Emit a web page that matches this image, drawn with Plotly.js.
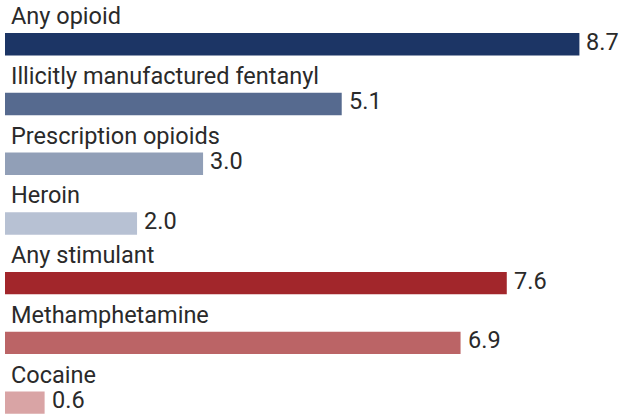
<!DOCTYPE html>
<html>
<head>
<meta charset="utf-8">
<script src="https://cdn.plot.ly/plotly-3.0.1.min.js"></script>
<style>html,body{margin:0;padding:0;background:#fff;}#chart{width:621px;height:414px;}</style>
</head>
<body>
<div id="chart"></div>
<script>
const categories = ["Any opioid","Illicitly manufactured fentanyl","Prescription opioids","Heroin","Any stimulant","Methamphetamine","Cocaine"];
const values = [8.7, 5.1, 3.0, 2.0, 7.6, 6.9, 0.6];
const colors = ["#1c3565","#566a8f","#919fb7","#b7c1d3","#a2262b","#bb6466","#d9a4a5"];

const font = {family: "Roboto, sans-serif", size: 23.5, color: "#2a2a2a"};

const trace = {
  type: "bar",
  orientation: "h",
  x: values,
  y: categories,
  marker: {color: colors, line: {width: 0}},
  hoverinfo: "none"
};

const annotations = [];
categories.forEach((c, i) => {
  annotations.push({
    x: 0, y: c, xref: "x", yref: "y",
    text: c, showarrow: false, xanchor: "left", yanchor: "middle",
    xshift: 4, yshift: 28, font: font
  });
  annotations.push({
    x: values[i], y: c, xref: "x", yref: "y",
    text: values[i].toFixed(1), showarrow: false, xanchor: "left", yanchor: "middle",
    xshift: 5, yshift: 2.5, font: font
  });
});

const layout = {
  width: 621, height: 414,
  margin: {l: 5, r: 0, t: 0, b: 0},
  paper_bgcolor: "#fff", plot_bgcolor: "#fff",
  showlegend: false,
  bargap: 0.625,
  xaxis: {range: [0, 9.33], visible: false, fixedrange: true},
  yaxis: {type: "category", range: [6.19, -0.74], visible: false, fixedrange: true},
  annotations: annotations
};

Plotly.newPlot("chart", [trace], layout, {displayModeBar: false, staticPlot: true});
</script>
</body>
</html>
